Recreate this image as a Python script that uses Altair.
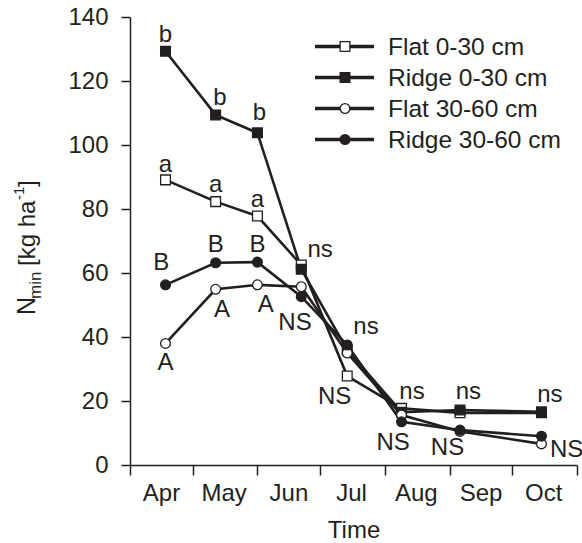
import altair as alt
import pandas as pd

# Sampling dates and mineral N (kg/ha) for each treatment/depth
sample_dates = ["2010-04-18", "2010-05-12", "2010-06-01", "2010-06-22",
                "2010-07-14", "2010-08-09", "2010-09-06", "2010-10-15"]
series_names = ["Flat 0-30 cm", "Ridge 0-30 cm", "Flat 30-60 cm", "Ridge 30-60 cm"]
flat_0_30 = [89.1, 82.3, 77.8, 62.5, 27.8, 17.7, 16.3, 16.3]
ridge_0_30 = [129.3, 109.4, 103.8, 61.2, 36.0, 16.5, 17.2, 16.6]
flat_30_60 = [38.0, 54.9, 56.3, 55.7, 35.0, 15.6, 10.5, 6.6]
ridge_30_60 = [56.3, 63.2, 63.4, 52.6, 37.5, 13.5, 10.9, 9.0]

# Significance letters (anchor date, anchor value in kg/ha, text)
label_texts = ["b", "b", "b", "a", "a", "a",
               "ns", "ns", "ns", "ns", "ns",
               "B", "B", "B", "A", "A", "A",
               "NS", "NS", "NS", "NS", "NS"]
label_dates = ["2010-04-18", "2010-05-14", "2010-06-02", "2010-04-18", "2010-05-12", "2010-06-01",
               "2010-07-01", "2010-07-23", "2010-08-14", "2010-09-10", "2010-10-19",
               "2010-04-16", "2010-05-12", "2010-06-01", "2010-04-18", "2010-05-15", "2010-06-05",
               "2010-06-19", "2010-07-08", "2010-08-05", "2010-08-31", "2010-10-27"]
label_values = [134.4, 114.7, 110.0, 93.8, 87.5, 82.8,
                67.2, 43.2, 22.9, 22.9, 21.9,
                63.0, 68.8, 68.8, 31.8, 48.4, 50.0,
                44.4, 21.3, 6.8, 5.2, 4.7]

month_ticks = [alt.DateTime(year=2010, month=m, date=1) for m in range(4, 12)]
y_ticks = [0, 20, 40, 60, 80, 100, 120, 140]

INK = "#231f20"
FONT = "Liberation Sans"
W, H = 447, 448

rows = []
for name, vals in zip(series_names, [flat_0_30, ridge_0_30, flat_30_60, ridge_30_60]):
    for d, v in zip(sample_dates, vals):
        rows.append({"series": name, "date": pd.Timestamp(d), "value": v})
df = pd.DataFrame(rows)

labels_df = pd.DataFrame({
    "text": label_texts,
    "date": pd.to_datetime(label_dates),
    "value": label_values,
})

x_enc = alt.X(
    "date:T",
    scale=alt.Scale(domain=[month_ticks[0], month_ticks[-1]]),
    axis=alt.Axis(
        values=month_ticks,
        labelExpr="month(datum.value) == 10 ? '' : timeFormat(datum.value, '%b')",
        labelOffset=31, labelAlign="center", labelFlush=False, labelOverlap=False,
        labelBound=False, labelPadding=6, tickSize=10, grid=False,
        title="Time", titleY=72, titleBaseline="alphabetic",
    ),
)
y_enc = alt.Y(
    "value:Q",
    scale=alt.Scale(domain=[0, 140], nice=False, zero=True),
    axis=alt.Axis(values=y_ticks, tickSize=9, labelPadding=13, grid=False,
                  labelFlush=False, title=None),
)

shape_scale = alt.Scale(domain=series_names, range=["square", "square", "circle", "circle"])
fill_scale = alt.Scale(domain=series_names, range=["white", INK, "white", INK])
size_scale = alt.Scale(domain=series_names, range=[95, 95, 80, 80])

base = alt.Chart(df)
lines = base.mark_line(color=INK, strokeWidth=2.6).encode(
    x=x_enc, y=y_enc, detail="series:N"
)
points = base.mark_point(filled=True, stroke=INK, strokeWidth=1.3, opacity=1).encode(
    x="date:T", y="value:Q",
    shape=alt.Shape("series:N", scale=shape_scale, legend=None),
    fill=alt.Fill("series:N", scale=fill_scale, legend=None),
    size=alt.Size("series:N", scale=size_scale, legend=None),
)
letters = alt.Chart(labels_df).mark_text(
    font=FONT, fontSize=24, color=INK, align="center", baseline="middle"
).encode(x="date:T", y="value:Q", text="text:N")

# Legend drawn as a key: line segment, marker and label per series
legend_layers = []
for i, name in enumerate(series_names):
    ly = 29.5 + 31 * i
    one = alt.Chart(pd.DataFrame({"series": [name]}))
    legend_layers.append(one.mark_rule(color=INK, strokeWidth=3.5).encode(
        x=alt.value(185), x2=alt.value(244), y=alt.value(ly)))
    legend_layers.append(one.mark_point(filled=True, stroke=INK, strokeWidth=1.3, opacity=1).encode(
        x=alt.value(215), y=alt.value(ly),
        shape=alt.Shape("series:N", scale=shape_scale, legend=None),
        fill=alt.Fill("series:N", scale=fill_scale, legend=None),
        size=alt.Size("series:N", scale=size_scale, legend=None)))
    legend_layers.append(one.mark_text(
        font=FONT, fontSize=24.5, color=INK, align="left", baseline="middle", dy=1
    ).encode(x=alt.value(258), y=alt.value(ly), text="series:N"))

# Y-axis title with subscript and superscript pieces, rotated
title_pieces = [("N", 25, -95, 298), ("min", 17, -89, 282), ("[kg ha", 24, -95, 249),
                ("-1", 15, -106, 183), ("]", 24, -95, 170)]
title_layers = []
for txt, fs, px, py in title_pieces:
    title_layers.append(alt.Chart(pd.DataFrame({"t": [txt]})).mark_text(
        font=FONT, fontSize=fs, color=INK, angle=270, align="left", baseline="alphabetic"
    ).encode(x=alt.value(px), y=alt.value(py), text="t:N"))

chart = alt.layer(lines, points, letters, *legend_layers, *title_layers).properties(
    width=W, height=H,
    background="white",
    autosize=alt.AutoSizeParams(type="none"),
    padding={"left": 130, "top": 17, "right": 5, "bottom": 78},
).configure_view(stroke=None).configure_axis(
    domainColor=INK, domainWidth=1.5, tickColor=INK, tickWidth=1.5,
    labelColor=INK, labelFont=FONT, labelFontSize=24,
    titleColor=INK, titleFont=FONT, titleFontSize=24, titleFontWeight="normal",
)

chart.save("out.html", embed_options={"renderer": "svg", "actions": False})
